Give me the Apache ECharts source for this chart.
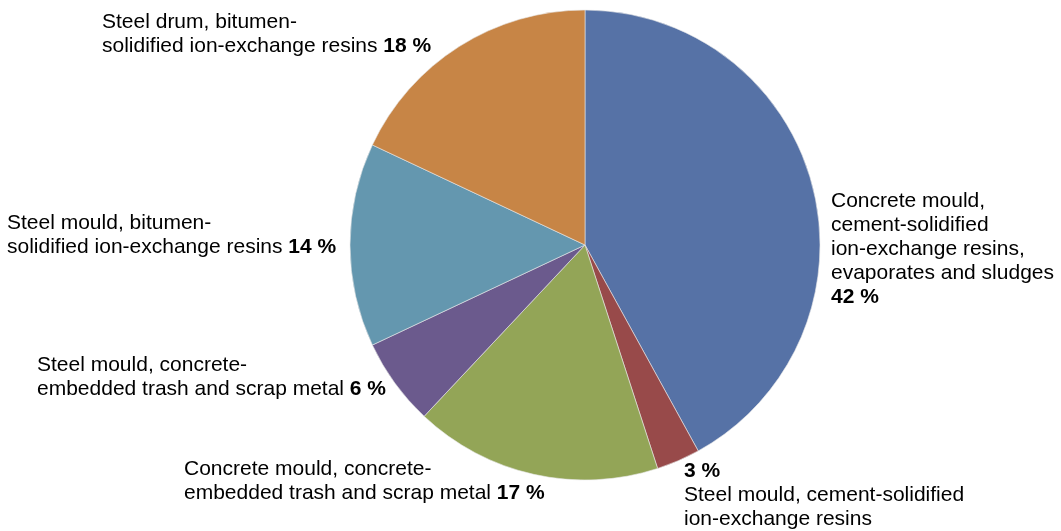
<!DOCTYPE html>
<html>
<head>
<meta charset="utf-8">
<script src="https://cdn.jsdelivr.net/npm/echarts@6/dist/echarts.min.js"></script>
<style>html,body{margin:0;padding:0;background:#fff;}#c{width:1061px;height:531px;}</style>
</head>
<body>
<div id="c"></div>
<script>
const categories = [
  "Concrete mould, cement-solidified ion-exchange resins, evaporates and sludges",
  "Steel mould, cement-solidified ion-exchange resins",
  "Concrete mould, concrete-embedded trash and scrap metal",
  "Steel mould, concrete-embedded trash and scrap metal",
  "Steel mould, bitumen-solidified ion-exchange resins",
  "Steel drum, bitumen-solidified ion-exchange resins"
];
const values = [42, 3, 17, 6, 14, 18];
const percentLabels = ["42 %", "3 %", "17 %", "6 %", "14 %", "18 %"];
const labelLines = [
  ["Concrete mould,", "cement-solidified", "ion-exchange resins,", "evaporates and sludges"],
  ["Steel mould, cement-solidified", "ion-exchange resins"],
  ["Concrete mould, concrete-", "embedded trash and scrap metal"],
  ["Steel mould, concrete-", "embedded trash and scrap metal"],
  ["Steel mould, bitumen-", "solidified ion-exchange resins"],
  ["Steel drum, bitumen-", "solidified ion-exchange resins"]
];
const colors = ["#5672A6", "#984A4A", "#93A557", "#6B5A8D", "#6497AF", "#C78546"];
// label anchor (left, top) per slice
const labelPos = [[831, 189], [684, 459], [184, 457], [37, 353], [7, 211], [102, 10]];

function fmt(i) {
  const L = labelLines[i].map(s => '{n|' + s + '}');
  const p = '{b|' + percentLabels[i] + '}';
  if (i === 0) return L.join('\n') + '\n' + p;
  if (i === 1) return p + '\n' + L.join('\n');
  L[L.length - 1] = L[L.length - 1] + '{n| }' + p;
  return L.join('\n');
}

const chart = echarts.init(document.getElementById('c'), null, {renderer: 'canvas'});
chart.setOption({
  animation: false,
  backgroundColor: '#ffffff',
  series: [{
    type: 'pie',
    center: [585, 245],
    radius: [0, 235],
    startAngle: 90,
    clockwise: true,
    avoidLabelOverlap: false,
    data: categories.map((c, i) => ({name: c, value: values[i], itemStyle: {color: colors[i]}})),
    itemStyle: {borderColor: '#e8e8e8', borderWidth: 0.6},
    label: {
      show: true,
      position: 'outside',
      formatter: p => fmt(p.dataIndex),
      rich: {
        n: {fontFamily: 'Liberation Sans, Arial, sans-serif', fontSize: 21, color: '#000', lineHeight: 24},
        b: {fontFamily: 'Liberation Sans, Arial, sans-serif', fontSize: 21, fontWeight: 'bold', color: '#000', lineHeight: 24}
      }
    },
    labelLine: {show: false},
    labelLayout: p => ({x: labelPos[p.dataIndex][0], y: labelPos[p.dataIndex][1], align: 'left', verticalAlign: 'top'}),
    emphasis: {disabled: true}
  }]
});
</script>
</body>
</html>
